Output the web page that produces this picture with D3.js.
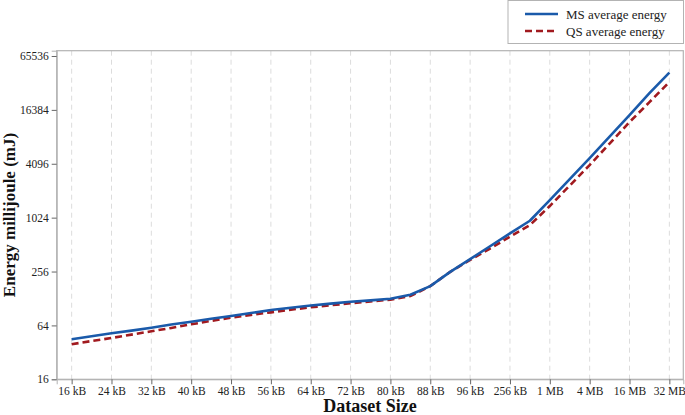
<!DOCTYPE html>
<html>
<head>
<meta charset="utf-8">
<script src="https://cdn.jsdelivr.net/npm/d3@7"></script>
<style>
  html, body { margin: 0; padding: 0; background: #fff; }
  svg { display: block; }
  svg text { font-family: "Liberation Serif", "Times New Roman", serif !important; }
</style>
</head>
<body>
<svg id="chart" width="685" height="415"></svg>
<script>
const categories = ["16 kB","20 kB","24 kB","28 kB","32 kB","36 kB","40 kB","44 kB","48 kB","52 kB","56 kB","60 kB","64 kB","68 kB","72 kB","76 kB","80 kB","84 kB","88 kB","92 kB","96 kB","128 kB","256 kB","512 kB","1 MB","2 MB","4 MB","8 MB","16 MB","24 MB","32 MB"];
const tickLabels = ["16 kB","24 kB","32 kB","40 kB","48 kB","56 kB","64 kB","72 kB","80 kB","88 kB","96 kB","256 kB","1 MB","4 MB","16 MB","32 MB"];
const msEnergy = [44.8,48.5,52.2,56,60.3,65.5,70.4,76,81.5,88,95,101,107,112,117.7,122,127,141,176,254,352,491,683,945,1609,2762,4738,8232,14290,25200,42780];
const qsEnergy = [39.4,42.8,46.3,50.5,55,60,65.8,72,78,84,89.6,96,102,107.5,113,118.5,124,136,176,254,345,463,627,846,1380,2337,3963,6877,11970,19980,33540];
const yTicks = [16,64,256,1024,4096,16384,65536];
const seriesNames = ["MS average energy","QS average energy"];

const svg = d3.select("#chart");
const L = 56.7, R = 683.3, T = 50.7, B = 379.3;

const x = d3.scaleLinear().domain([-0.75, categories.length - 1 + 0.7]).range([L, R]);
const y = d3.scaleLog().base(2).domain([16, 75100]).range([B, T]);

// vertical dashed gridlines at labelled ticks
const tickIdx = tickLabels.map(t => categories.indexOf(t));
svg.append("g").selectAll("line").data(tickIdx).join("line")
  .attr("x1", d => x(d)).attr("x2", d => x(d))
  .attr("y1", T).attr("y2", B)
  .attr("stroke", "#dcdcdc").attr("stroke-width", 1)
  .attr("stroke-dasharray", "5,4");

// frame
svg.append("rect").attr("x", L).attr("y", T).attr("width", R - L).attr("height", B - T)
  .attr("fill", "none").attr("stroke", "#b3b3b3").attr("stroke-width", 1.2);

// y axis
const yAxis = d3.axisLeft(y).tickValues(yTicks).tickFormat(d3.format("d")).tickSize(5).tickPadding(3);
const gy = svg.append("g").attr("transform", `translate(${L},0)`).call(yAxis);
gy.attr("font-family", null);
gy.select(".domain").attr("stroke", "#b3b3b3");
gy.selectAll(".tick line").attr("stroke", "#666");
gy.selectAll("text").style("font-size", "11.5px").attr("fill", "#222");

// x axis
const xAxis = d3.axisBottom(x).tickValues(tickIdx).tickFormat(i => categories[i]).tickSize(5).tickPadding(3);
const gx = svg.append("g").attr("transform", `translate(0,${B})`).call(xAxis);
gx.attr("font-family", null);
gx.select(".domain").attr("stroke", "#b3b3b3");
gx.selectAll(".tick line").attr("stroke", "#666");
gx.selectAll("text").style("font-size", "11.5px").attr("fill", "#222");

// axis titles
svg.append("text").attr("x", 370).attr("y", 412)
  .attr("text-anchor", "middle").attr("font-weight", "bold").style("font-size", "18px")
  .attr("fill", "#111").text("Dataset Size");
svg.append("text").attr("transform", `translate(15,215) rotate(-90)`)
  .attr("text-anchor", "middle").attr("font-weight", "bold").style("font-size", "17px")
  .attr("fill", "#111").text("Energy millijoule (mJ)");

// lines
const line = d3.line().x((d, i) => x(i)).y(d => y(d));
svg.append("path").datum(qsEnergy).attr("d", line)
  .attr("fill", "none").attr("stroke", "#a11a1f").attr("stroke-width", 2.6)
  .attr("stroke-dasharray", "7,4");
svg.append("path").datum(msEnergy).attr("d", line)
  .attr("fill", "none").attr("stroke", "#1a5aaa").attr("stroke-width", 2.6)
  .attr("stroke-linejoin", "round");

// legend
const lg = svg.append("g");
lg.append("rect").attr("x", 508).attr("y", 0.5).attr("width", 175.5).attr("height", 43)
  .attr("fill", "#fff").attr("stroke", "#b3b3b3").attr("stroke-width", 1);
const legendStyles = [
  {color: "#1a5aaa", dash: null},
  {color: "#a11a1f", dash: "7,4"}
];
seriesNames.forEach((name, i) => {
  const yy = 14 + i * 17;
  const l = lg.append("line").attr("x1", 525).attr("x2", 558).attr("y1", yy).attr("y2", yy)
    .attr("stroke", legendStyles[i].color).attr("stroke-width", 2.6);
  if (legendStyles[i].dash) l.attr("stroke-dasharray", legendStyles[i].dash);
  lg.append("text").attr("x", 566).attr("y", yy + 4.5).style("font-size", "13px")
    .attr("fill", "#222").text(name);
});
</script>
</body>
</html>
